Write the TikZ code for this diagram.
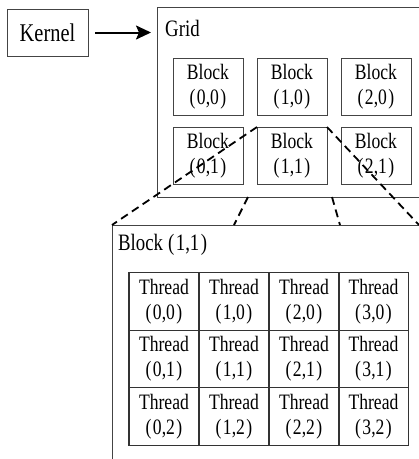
\documentclass[tikz,border=0pt]{standalone}
\usepackage{fontspec}
\setmainfont{Liberation Serif}[FakeStretch=0.8]
\usetikzlibrary{arrows.meta,calc}
\definecolor{boxline}{HTML}{444444}
\newcommand{\pr}[1]{(\kern1.5pt#1\kern1.5pt)}
\begin{document}
\begin{tikzpicture}[x=1pt,y=-1pt,
  box/.style={draw=boxline,line width=1pt,fill=white,rectangle,inner sep=0pt,outer sep=0pt},
  blk/.style={box,minimum width=70pt,minimum height=57pt,align=center,font=\fontsize{22}{25}\selectfont},
  cell/.style={draw=black!80,line width=1.2pt,rectangle,inner sep=0pt,outer sep=0pt,minimum width=70pt,minimum height=57.5pt,align=center,font=\fontsize{22}{25}\selectfont},
  lbl/.style={anchor=west,inner sep=0pt,font=\fontsize{23.5}{27}\selectfont},
  proj/.style={draw=black,dashed,dash pattern=on 8pt off 5pt,line width=1.8pt}]
\useasboundingbox (0,0) rectangle (419,459);
\clip (0,0) rectangle (419,459);
% Kernel
\node[box,minimum width=81pt,minimum height=47pt,font=\fontsize{25.5}{28}\selectfont] (kernel) at (47.5,32.5) {Kernel};
% Grid
\node[box,minimum width=300pt,minimum height=190pt] (grid) at (307,102) {};
\node[lbl] (gridlbl) at (165,28) {Grid};
\draw[line width=2pt,-{Stealth[length=15pt,width=14pt,inset=3pt]},shorten <=7pt,shorten >=6pt] (kernel.east) -- (kernel.east -| grid.west);
% Blocks
\node[blk] (b00) at (208,87) {Block\\\pr{0,0}};
\node[blk] (b10) at (292,87) {Block\\\pr{1,0}};
\node[blk] (b20) at (376,87) {Block\\\pr{2,0}};
\node[blk] (b01) at (208,155.5) {Block\\\pr{0,1}};
\node[blk] (b11) at (292,155.5) {Block\\\pr{1,1}};
\node[blk] (b21) at (376,155.5) {Block\\\pr{2,1}};
% Big block
\node[box,minimum width=340pt,minimum height=260pt] (big) at (282,355) {};
\node[lbl] (biglbl) at (118,245) {Block\hspace{5pt}\pr{1,1}};
% Threads
\foreach \c/\x in {0/164,1/234,2/304,3/373.5}{
  \foreach \r/\y in {0/301.5,1/359,2/416.5}{
    \node[cell] (t\c\r) at (\x,\y) {Thread\\\pr{\c,\r}};
  }
}
% projection lines
\coordinate (bigne) at (419,225);
\coordinate (g1) at (248,197);
\coordinate (q1) at (234,225);
\coordinate (g2) at (332,197);
\coordinate (q2) at (340,225);
\draw[proj] (b11.north west) -- (big.north west);
\draw[proj] (b11.north east) -- (bigne);
\draw[proj] (g1) -- (q1);
\draw[proj] (g2) -- (q2);
\end{tikzpicture}
\end{document}
